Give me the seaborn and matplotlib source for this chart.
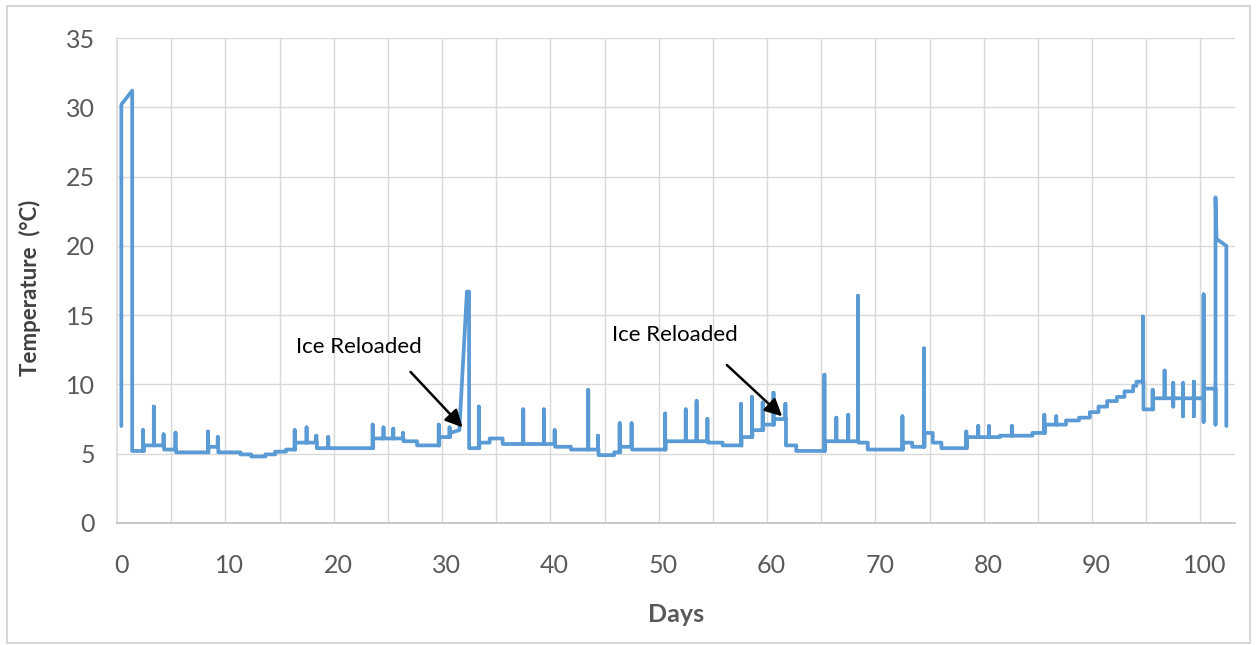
import numpy as np
import pandas as pd
import matplotlib
matplotlib.use("Agg")
import matplotlib.pyplot as plt
import seaborn as sns
from matplotlib.patches import Rectangle
from matplotlib.ticker import FixedLocator

# ---------------- data ----------------
# initial warm period before the box was loaded
start_day = [0.0, 0.0, 1.0]
start_temp = [7.0, 30.2, 31.2]

# baseline level changes: day at which the level changes, new level (°C)
level_day = [1.0, 2.1, 3.95, 5.05, 8.05, 8.95, 11.0, 12.0, 13.3, 14.2, 15.2,
             16.05, 18.05, 23.25, 26.05, 27.3, 29.35, 30.35, 32.1, 33.05, 34.0,
             35.2, 40.05, 41.5, 44.05, 45.5, 46.05, 47.15, 50.25, 54.15, 55.5,
             57.25, 58.25, 59.25, 60.25, 61.35, 62.3, 64.95, 68.05, 68.9, 72.15,
             73.0, 74.15, 74.9, 75.7, 78.05, 81.1, 84.1, 85.25, 87.2, 88.4,
             89.4, 90.2, 91.0, 91.9, 92.6, 93.4, 93.7, 94.35, 95.25, 99.95]
level_temp = [5.2, 5.6, 5.3, 5.1, 5.5, 5.1, 4.95, 4.8, 4.95, 5.15, 5.3,
              5.8, 5.4, 6.1, 5.9, 5.6, 6.2, 6.5, 5.4, 5.8, 6.1,
              5.7, 5.5, 5.3, 4.9, 5.1, 5.5, 5.3, 5.9, 5.8, 5.6,
              6.2, 6.7, 7.1, 7.5, 5.6, 5.2, 5.9, 5.8, 5.3, 5.8,
              5.5, 6.5, 5.8, 5.4, 6.2, 6.3, 6.5, 7.1, 7.4, 7.6,
              8.0, 8.4, 8.8, 9.1, 9.5, 9.9, 10.2, 8.2, 9.0, 9.7]

# ramp of the first ice-reload peak
ramp_day = [31.2, 31.9, 32.1]
ramp_temp = [6.7, 16.7, 16.7]

# short spikes (door openings): day, top temperature, lowest temperature
spike_day = [2.0, 3.0, 3.9, 5.0, 8.0, 8.9, 16.0, 17.1, 18.0, 19.1, 23.2, 24.2,
             25.1, 26.0, 29.3, 30.3, 33.0, 37.1, 39.0, 40.0, 43.1, 44.0, 46.0,
             47.1, 50.2, 52.1, 53.1, 54.1, 57.2, 58.2, 59.2, 60.2, 61.3, 64.9,
             66.0, 67.1, 68.0, 72.1, 74.1, 78.0, 79.1, 80.1, 82.2, 85.2, 86.3,
             94.3, 95.2, 96.3, 97.1, 98.0, 99.0, 99.9]
spike_top = [6.7, 8.4, 6.4, 6.5, 6.6, 6.2, 6.7, 6.9, 6.3, 6.2, 7.1, 6.9,
             6.8, 6.5, 7.1, 6.9, 8.4, 8.2, 8.2, 6.7, 9.6, 6.3, 7.2,
             7.2, 7.9, 8.2, 8.8, 7.5, 8.6, 9.1, 8.7, 9.4, 8.6, 10.7,
             7.6, 7.8, 16.4, 7.7, 12.6, 6.6, 7.0, 7.0, 7.0, 7.8, 7.7,
             14.9, 9.6, 11.0, 10.1, 10.1, 10.2, 16.5]
spike_low = [None] * 48 + [8.4, 7.7, 7.7, 7.3]

# end of the record
end_day = [101.0, 101.0, 101.1, 102.0, 102.0]
end_temp = [7.1, 23.5, 20.5, 20.0, 7.0]

x_ticks = [0, 10, 20, 30, 40, 50, 60, 70, 80, 90, 100]
y_ticks = [0, 5, 10, 15, 20, 25, 30, 35]
notes = ["Ice Reloaded", "Ice Reloaded"]
note_text_xy = [(21.9, 12.7), (51.1, 13.6)]
note_tail_xy = [(26.7, 10.9), (55.9, 11.4)]
note_head_xy = [(31.5, 6.9), (61.0, 7.7)]

# ---------------- build the polyline ----------------
# order at equal day: ramp point, then spike, then level change
events = [(d, 2, t) for d, t in zip(level_day, level_temp)]
events += [(d, 1, (t, lo)) for d, t, lo in zip(spike_day, spike_top, spike_low)]
events += [(d, 0, t) for d, t in zip(ramp_day, ramp_temp)]
events.sort(key=lambda e: (e[0], e[1]))

px = list(start_day)
py = list(start_temp)
lvl = start_temp[-1]
for d, kind, val in events:
    if kind == 2:
        px += [d, d]
        py += [lvl, val]
        lvl = val
    elif kind == 1:
        top, lo = val
        px += [d, d, d, d]
        py += [lvl, top, lvl if lo is None else lo, lvl]
    else:
        px.append(d)
        py.append(val)
        lvl = val
px.append(end_day[0])
py.append(lvl)
px += end_day
py += end_temp

df = pd.DataFrame({"Days": px, "Temperature": py})

# ---------------- plot ----------------
sns.set_theme(style="white")
plt.rcParams["font.family"] = ["Lato", "DejaVu Sans"]

W, H = 1257, 645
fig = plt.figure(figsize=(W / 100, H / 100), dpi=100)
L, R, T, B = 117, 1235, 38, 523
ax = fig.add_axes([L / W, 1 - B / H, (R - L) / W, (B - T) / H])

sns.lineplot(data=df, x="Days", y="Temperature", sort=False, estimator=None,
             color="#5B9BD5", linewidth=2.7, ax=ax)

ax.set_xlim(-0.4, 102.8)
ax.set_ylim(0, 35)
ax.set_xticks(x_ticks)
ax.set_yticks(y_ticks)
ax.xaxis.set_minor_locator(FixedLocator(np.arange(4.6, 100, 5)))
ax.grid(axis="y", which="major", color="#D9D9D9", linewidth=1.0)
ax.grid(axis="x", which="minor", color="#D9D9D9", linewidth=1.0)
ax.grid(axis="x", which="major", visible=False)
ax.tick_params(axis="both", which="both", length=0, labelsize=18,
               labelcolor="#595959")
ax.tick_params(axis="x", pad=22)
ax.tick_params(axis="y", pad=16)
ax.set_xlabel("")
ax.set_ylabel("")
for s in ["top", "right"]:
    ax.spines[s].set_visible(False)
ax.spines["left"].set_color("#D9D9D9")
ax.spines["bottom"].set_color("#BFBFBF")
ax.spines["bottom"].set_linewidth(1.2)

fig.text(676 / W, 1 - 615 / H, "Days", ha="center", va="center",
         fontsize=18, fontweight="bold", color="#595959")
fig.text(30 / W, 1 - 288 / H, "Temperature  (°C)", ha="center", va="center",
         rotation=90, fontsize=16, fontweight="bold", color="#404040")

for txt, txy, tail, head in zip(notes, note_text_xy, note_tail_xy, note_head_xy):
    ax.text(txy[0], txy[1], txt, ha="center", va="center", fontsize=16,
            color="black")
    ax.annotate("", xy=head, xytext=tail,
                arrowprops=dict(arrowstyle="-|>", color="black", lw=1.8,
                                mutation_scale=26, shrinkA=0, shrinkB=0))

fig.patches.append(Rectangle((7 / W, 2 / H), (1250 - 7) / W, (639 - 2) / H,
                             transform=fig.transFigure, fill=False,
                             edgecolor="#D0D0D0", linewidth=1.2))

fig.savefig("out.png", dpi=100)
